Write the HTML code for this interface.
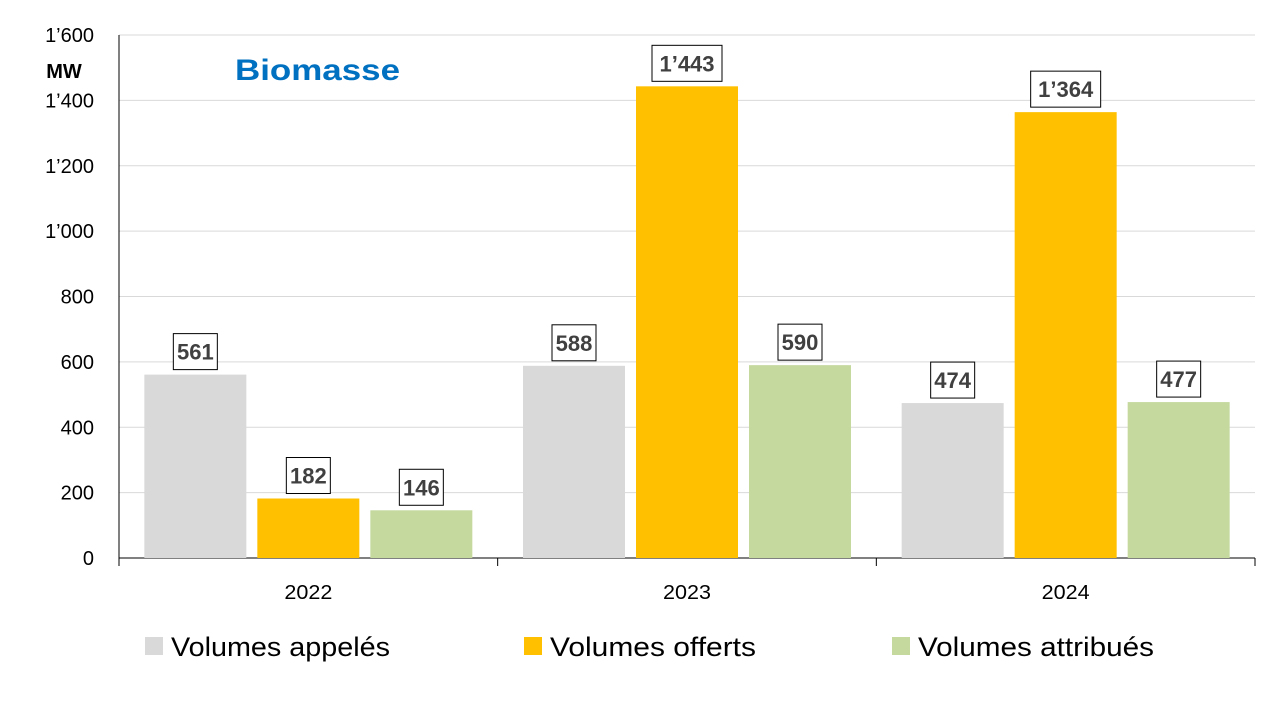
<!DOCTYPE html>
<html><head><meta charset="utf-8"><style>
body{margin:0;background:#fff;}
svg text{font-family:"Liberation Sans",sans-serif;}
</style></head><body>
<svg id="c" width="1280" height="720" xmlns="http://www.w3.org/2000/svg">
<text x="235" y="80" font-size="30" font-weight="bold" fill="#0070C0" textLength="165" lengthAdjust="spacingAndGlyphs">Biomasse</text>
<text x="64" y="78" font-size="20" font-weight="bold" fill="#000" text-anchor="middle">MW</text>
</svg>
<script>
const categories=["2022","2023","2024"];
const seriesNames=["Volumes appelés","Volumes offerts","Volumes attribués"];
const appeles=[561,588,474];
const offerts=[182,1443,1364];
const attribues=[146,590,477];
const yTicks=[0,200,400,600,800,1000,1200,1400,1600];
const yTickLabels=["0","200","400","600","800","1’000","1’200","1’400","1’600"];
const colors=["#D9D9D9","#FFC000","#C5D99F"];
const NS="http://www.w3.org/2000/svg";
const svg=document.getElementById('c');
const x0=119,x1=1255,yb=558,yt=35,ymax=1600;
const y=v=>yb-(v/ymax)*(yb-yt);
const cw=(x1-x0)/categories.length;
function mk(t,a){const e=document.createElementNS(NS,t);for(const k in a)e.setAttribute(k,a[k]);svg.appendChild(e);return e;}
yTicks.forEach((v,i)=>{
  if(v>0){const g=mk('line',{x1:x0,x2:x1,y1:y(v),y2:y(v),stroke:'#D9D9D9','stroke-width':1});
  
  }
  const t=mk('text',{x:94,y:y(v)+7,'font-size':20,'text-anchor':'end',fill:'#000'});
  t.textContent=yTickLabels[i];
  
  
});
const ax=mk('line',{x1:x0,x2:x0,y1:yt,y2:yb,stroke:'#000','stroke-width':1});


const xa=mk('line',{x1:x0,x2:x1,y1:yb,y2:yb,stroke:'#000','stroke-width':1});


for(let i=0;i<=categories.length;i++){
  const tk=mk('line',{x1:x0+i*cw,x2:x0+i*cw,y1:yb,y2:yb+8,stroke:'#000'});
  
  
}
const series=[appeles,offerts,attribues];
const bw=102,gap=11;
categories.forEach((c,ci)=>{
  const cx=x0+ci*cw+cw/2;
  const t=mk('text',{x:cx,y:599,'font-size':20,'text-anchor':'middle',fill:'#000',textLength:48,lengthAdjust:'spacingAndGlyphs'});
  t.textContent=c;
  
  
  series.forEach((s,si)=>{
    const v=s[ci];
    const bx=cx+(si-1)*(bw+gap)-bw/2;
    const r=mk('rect',{x:bx,y:y(v),width:bw,height:yb-y(v),fill:colors[si]});
    
    
    const lbl=v>=1000?Math.floor(v/1000)+'’'+String(v%1000).padStart(3,'0'):String(v);
    const w=lbl.length>3?70:44;
    const bxr=mk('rect',{x:bx+bw/2-w/2,y:y(v)-41,width:w,height:36,fill:'#fff',stroke:'#000','stroke-width':1});
    
    
    const vt=mk('text',{x:bx+bw/2,y:y(v)-15,'font-size':22,'font-weight':'bold','text-anchor':'middle',fill:'#404040'});
    vt.textContent=lbl;
    
    
  });
});
const legX=[145,524,892];
const legW=[219,206,236];
seriesNames.forEach((n,i)=>{
  const r=mk('rect',{x:legX[i],y:637,width:18,height:18,fill:colors[i]});
  
  
  const t=mk('text',{x:legX[i]+26,y:656,'font-size':27,fill:'#000',textLength:legW[i],lengthAdjust:'spacingAndGlyphs'});
  t.textContent=n;
  
  
});
</script>
</body></html>
